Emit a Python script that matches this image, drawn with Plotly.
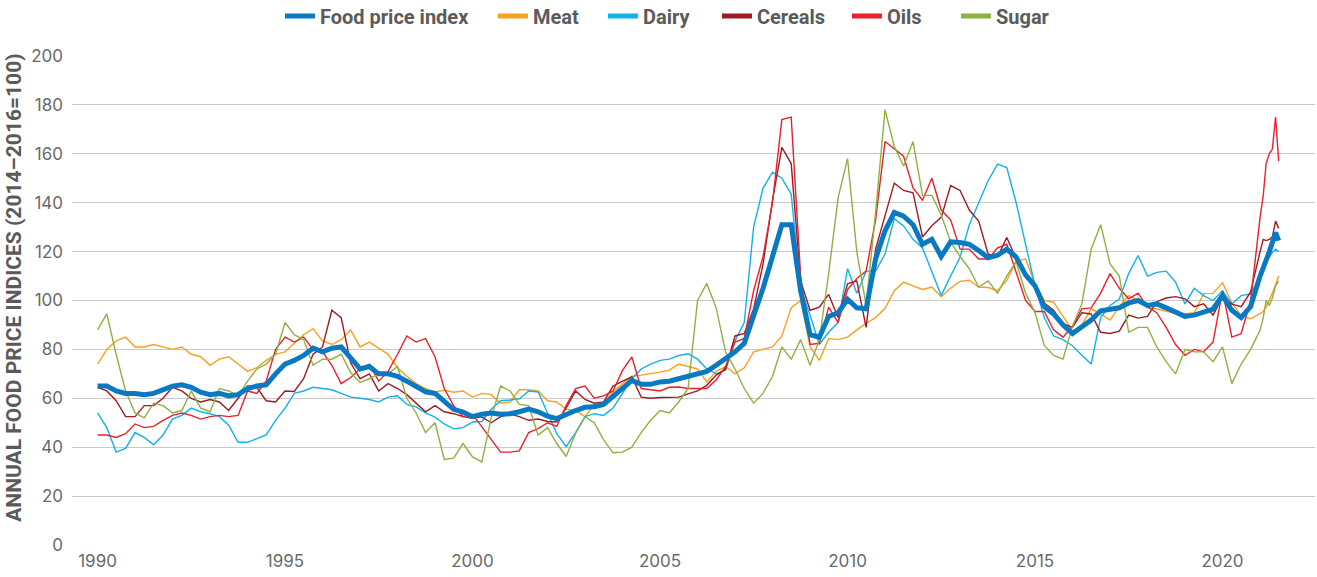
import plotly.graph_objects as go
import pandas as pd

# x positions: quarterly observations 1990-2020, monthly for 2021
quarter_dates = pd.date_range("1990-01-01", "2020-10-01", freq="QS")
month_dates_2021 = pd.date_range("2021-01-01", "2021-07-01", freq="MS")
dates = list(quarter_dates) + list(month_dates_2021)

food_price_index = [
    65, 65, 63, 62, 62, 61.5, 62, 63.5, 65, 65.5, 64.5, 62.5, 61.5, 62, 61, 61.5, 64, 65, 65.5, 70,
    74, 75.5, 77.5, 80.5, 79, 80.5, 81, 76.5, 72, 73, 70, 70, 69, 67, 65, 62.6, 62, 59, 55.5, 54.4, 52.5, 53.5,
    54, 53.5, 53.7, 54.5, 55.6, 54.5, 52.7, 51.7, 53.5, 55, 56.3, 56.5, 57.5, 61, 64, 67.3, 65.7, 65.7, 66.7, 67, 68, 69, 70,
    71, 73.5, 76, 79, 82.5, 93, 105, 118, 131, 131, 104, 86, 85, 93.5, 95, 100.5, 97, 96.6, 117, 128.5, 136, 134.5,
    131, 123, 125, 118, 124, 123.7, 123, 120.4, 117.5, 118.5, 121, 117.8, 110.5, 106, 97.5, 94.5, 90, 86.5, 89, 92, 95.8, 96.3, 97,
    99, 100, 98, 98.6, 97, 95.5, 93.5, 94, 95.2, 96.5, 102, 96, 93, 97.5,
    110, 113, 116.5, 120, 123.5, 127.8, 124.5,
]
meat = [
    74, 80, 83.5, 85, 81, 81, 82, 81, 80, 81, 78, 77, 73.5, 76, 77, 74, 71, 72.5, 75.5, 78,
    79, 82.5, 86, 88.5, 83.5, 82, 84, 88, 81, 83, 80.5, 78, 72.5, 69, 66, 64, 62.6, 63.3, 62.5, 63, 60.5, 62,
    61.5, 58, 58.5, 63.5, 63.5, 63, 59, 58.5, 55.5, 55, 52.4, 57.5, 58, 62.6, 66, 69, 69.5, 70, 70.7, 71.5, 74, 73, 72,
    66.7, 71, 73, 70, 72.5, 79, 80, 81, 85.5, 97, 100, 81, 75.5, 84.5, 84, 85, 88, 90.7, 93, 96.8, 104, 107.5,
    106, 104.5, 105.5, 101.5, 105, 107.8, 108.3, 105.5, 105.3, 104, 108.2, 116, 117, 106.8, 100, 99.3, 93.5, 87.5, 90, 96.6, 94.5, 92, 97.5,
    102, 100.2, 97, 96.6, 95.7, 94.7, 94.6, 95, 102.8, 102.9, 107.3, 99, 93.8, 92.5,
    94.6, 95.5, 97.3, 100, 103, 106.5, 110,
]
dairy = [
    54, 48, 38, 39.5, 46, 44, 41, 45, 51.5, 53, 56, 54.5, 53.7, 52.5, 49, 42, 42, 43.5, 45, 51,
    56, 62, 63, 64.5, 64, 63.5, 62, 60.5, 60, 59.5, 58.5, 60.5, 61, 57.5, 56.5, 54, 52.3, 49.5, 47.5, 48, 50.3, 50.5,
    55.5, 59, 59.3, 59.8, 63, 62.6, 54, 45.5, 40.2, 46, 52.5, 53.7, 53, 56, 62, 68, 72, 74, 75.5, 76, 77.5, 78.2, 76,
    72, 70, 71.5, 83.5, 91, 130, 146, 152.5, 150, 143.5, 105, 94, 82, 87, 91, 113, 103, 112, 112, 119, 133.5, 130.5,
    125, 121.5, 112, 102, 110, 117.7, 131, 140, 149, 155.8, 154.4, 140, 123, 106, 93, 85.5, 84, 81.5, 77.6, 74, 93, 98, 100.6,
    111, 118.4, 110, 111.5, 112, 107.5, 98.6, 105, 102, 100, 104, 98.6, 102, 102.7,
    110, 113.5, 116.5, 117.7, 119.7, 121, 120,
]
cereals = [
    64.5, 63, 59, 52.5, 52.5, 57, 57, 60, 64.5, 63, 60, 58.5, 59.5, 58.5, 55, 60, 65, 64.5, 59, 58.5,
    63, 62.8, 68, 78, 81, 96, 93, 74.5, 68, 70, 63, 66, 64, 61.5, 58, 54.5, 57, 54.5, 53.7, 52.5, 51.8, 52.4,
    50, 52.5, 53.5, 52.5, 51, 51.5, 50.5, 50.3, 56, 63, 59.5, 58, 58.5, 65, 67, 68.7, 60.5, 60, 60.3, 60.5, 60.5, 61.8, 63,
    65.3, 69.5, 72, 85.5, 86.5, 96.5, 115, 141, 162.6, 156, 108, 96, 97.3, 102.5, 93, 106.8, 108, 89, 121, 135, 148, 145,
    144, 126, 130.6, 134, 147, 145, 137, 132.5, 119, 117.8, 125.8, 117, 109.5, 106, 99, 96, 90.5, 89, 95, 94.5, 87, 86.5, 87.5,
    94, 92.8, 93.5, 99.5, 101, 101.6, 100.7, 97.5, 98.6, 94, 101.5, 98.5, 97.5, 103.5,
    120, 125, 124.5, 125, 126, 132.5, 129.5,
]
oils = [
    45, 45, 44, 45.5, 49.5, 48, 48.5, 51, 53, 54, 53, 51.5, 52.5, 53, 52.5, 53, 63, 62, 67, 80,
    85, 83, 85, 80, 79, 73.5, 66, 68.5, 72, 74, 67, 71, 78, 85.5, 83, 84.4, 77, 64, 57, 52.5, 53.5, 48.5,
    43, 38, 38, 38.5, 46, 47.6, 50, 48.5, 57, 64, 65, 60, 61, 63, 71.4, 76.9, 64, 63.5, 63, 64.5, 64.6, 64, 64,
    64, 67.5, 73, 83, 84.5, 104, 118, 140, 174, 175, 110, 82, 82.5, 97.3, 91, 104.5, 109, 112, 133, 165, 162, 159,
    146, 141, 150, 137, 133, 121, 121, 117, 117, 121.5, 123, 112, 100, 95.5, 95.5, 88, 85, 89.5, 96.6, 97, 103, 111, 105,
    100.7, 103, 97.3, 95, 89, 82, 77.6, 80, 79, 83, 104, 85, 86.4, 100,
    134, 143, 156, 160, 162, 175, 157,
]
sugar = [
    88, 94.5, 78, 63, 54, 52, 58, 57, 54, 55, 63, 56, 54.5, 64, 63, 61, 67, 72, 74, 78,
    91, 86, 84, 73.5, 76, 76, 78, 70.5, 66.5, 68, 70, 70, 73, 60, 54, 46, 50, 35, 35.5, 41.5, 36, 34,
    52, 65, 63, 57.5, 57, 45, 48, 41.5, 36.2, 45.6, 52.4, 50, 43, 37.7, 38, 40, 46, 51, 55, 54, 58.5, 64, 100,
    107, 97, 79, 72, 64, 58, 62, 69, 81, 76, 84, 73.5, 84, 111, 142, 158, 120, 98, 136, 178, 163, 155,
    165, 143, 143, 135, 124, 118, 113, 105.5, 108, 103, 110, 116, 103, 95, 81.6, 77.5, 76, 89.5, 98.6, 121, 131, 115, 110,
    87, 89, 89, 81, 75, 70, 80, 79, 79, 75, 81, 66, 74, 80,
    87.8, 93, 100, 98, 101, 106, 108,
]

series_names = ["Food price index", "Meat", "Dairy", "Cereals", "Oils", "Sugar"]
series_values = [food_price_index, meat, dairy, cereals, oils, sugar]
series_colors = ["#0A79C3", "#F9A01E", "#11B1EC", "#9E1B22", "#E8212A", "#8DB241"]
legend_entry_widths = [168, 65, 69, 85, 64, 55]
year_ticks = ["1990-01-01", "1995-01-01", "2000-01-01", "2005-01-01", "2010-01-01", "2015-01-01", "2020-01-01"]
year_labels = ["1990", "1995", "2000", "2005", "2010", "2015", "2020"]
y_title = "ANNUAL FOOD PRICE INDICES (2014–2016=100)"

for v in series_values:
    assert len(v) == len(dates), (len(v), len(dates))

fig = go.Figure()

# thin commodity lines first, food price index on top
draw_order = [1, 2, 3, 4, 5, 0]
for i in draw_order:
    fig.add_trace(go.Scatter(
        x=dates, y=series_values[i], mode="lines", name=series_names[i],
        line=dict(color=series_colors[i], width=5 if i == 0 else 1.4),
        showlegend=False, legendgroup=series_names[i], hoverinfo="x+y+name",
    ))

# legend entries (thick swatches as in the reference)
for i in range(6):
    fig.add_trace(go.Scatter(
        x=[None], y=[None], mode="lines", name=series_names[i],
        line=dict(color=series_colors[i], width=5),
        legendgroup=series_names[i], showlegend=True,
        legendwidth=legend_entry_widths[i],
    ))

fig.add_annotation(
    text=y_title, textangle=-90, showarrow=False,
    xref="paper", yref="paper", x=-0.0467, y=0.526,
    xanchor="center", yanchor="middle",
    font=dict(family="Roboto", size=21, color="#5a5a5a", weight="bold"),
)

fig.update_layout(
    width=1317, height=577,
    margin=dict(l=72, r=2, t=55.5, b=32, autoexpand=False),
    paper_bgcolor="white", plot_bgcolor="white",
    font=dict(family="Inter, Roboto, sans-serif", color="#6a6a6a"),
    legend=dict(
        orientation="h", x=0.1673, xanchor="left", y=1.0817, yanchor="middle",
        font=dict(family="Roboto", size=20, color="#5b5b5b", weight="bold"),
        bgcolor="rgba(0,0,0,0)", itemwidth=30, traceorder="normal",
    ),
    xaxis=dict(
        type="date", range=["1989-04-27", "2022-06-20"],
        tickvals=year_ticks, ticktext=year_labels,
        showgrid=False, zeroline=False, showline=False, ticks="",
        tickfont=dict(family="Inter", size=17, color="#6a6a6a"),
        ticklabelstandoff=4,
    ),
    yaxis=dict(
        range=[0, 200], dtick=20, tick0=0,
        showgrid=True, gridcolor="#c9c9c9", gridwidth=1.2,
        zeroline=False, showline=False, ticks="",
        tickfont=dict(family="Inter", size=17, color="#6a6a6a"),
        ticklabelstandoff=8,
    ),
)

fig.write_html(
    "out.html",
    config={"displayModeBar": False},
    post_script="document.body.style.margin='0px';document.body.style.overflow='hidden';",
)
